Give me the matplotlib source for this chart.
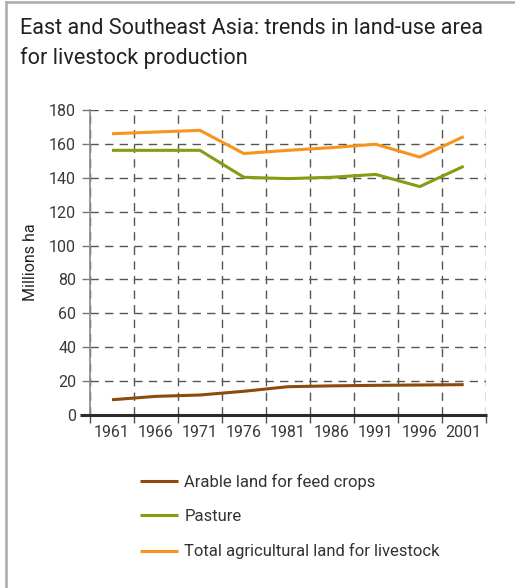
import matplotlib
matplotlib.use("Agg")
import matplotlib.pyplot as plt
from matplotlib.lines import Line2D

# Daten (Millionen ha)
years = ["1961", "1966", "1971", "1976", "1981", "1986", "1991", "1996", "2001"]
arable = [9.0, 11.0, 11.8, 14.0, 16.7, 17.2, 17.5, 17.7, 17.9]
pasture = [156.2, 156.2, 156.2, 140.3, 139.5, 140.3, 142.0, 134.8, 146.8]
total = [166.0, 167.0, 168.0, 154.3, 156.2, 157.8, 159.8, 152.2, 164.3]
labels = ["Arable land for feed crops", "Pasture", "Total agricultural land for livestock"]
colors = ["#8a4b0b", "#8a9a12", "#f7931e"]

plt.rcParams['font.family'] = ['Roboto', 'DejaVu Sans']

fig = plt.figure(figsize=(5.15, 5.88), dpi=100)
ax = fig.add_axes([90 / 515, 1 - 415 / 588, (485.7 - 90) / 515, (415 - 110) / 588])

x = list(range(len(years)))
lines = []
for vals, col, lab in zip([arable, pasture, total], colors, labels):
    ln, = ax.plot(x, vals, color=col, linewidth=2.2, label=lab, solid_capstyle='butt', zorder=3)
    lines.append(ln)

# Achsen
ax.set_xlim(-0.5, len(years) - 0.5)
ax.set_ylim(0, 180)
ax.set_yticks(range(0, 181, 20))
ax.set_xticks([i - 0.5 for i in range(len(years) + 1)])
ax.set_xticklabels([])
ax.set_xticks(x, minor=True)
ax.set_xticklabels(years, minor=True)
ax.tick_params(axis='x', which='minor', length=0, pad=7, labelsize=11.5, labelcolor='#3a3a3a')
ax.tick_params(axis='x', which='major', length=6, width=1, color='#555555', direction='out')
ax.tick_params(axis='y', length=6, width=1, color='#777777', pad=4, labelsize=11.5, labelcolor='#3a3a3a')

ax.grid(True, which='major', linestyle=(0, (6, 4.5)), color='#555555', linewidth=1.0)
ax.set_axisbelow(True)

for s in ['top', 'right', 'bottom']:
    ax.spines[s].set_visible(False)
ax.spines['left'].set_color('#888888')
ax.spines['left'].set_linewidth(1.2)

# Nulllinie, links und rechts etwas verlängert
ax.plot([-0.025, 1.004], [0, 0], transform=ax.get_yaxis_transform(), color='#2b2b2b',
        linewidth=2.2, clip_on=False, zorder=4, solid_capstyle='butt')

ax.set_ylabel('Millions ha', fontsize=11.5, color='#222222', labelpad=8)

# Titel
fig.text(20 / 515, 1 - 18 / 588, "East and Southeast Asia: trends in land-use area\nfor livestock production",
         fontsize=15.6, color='#222222', va='top', ha='left', linespacing=1.45)

# Rahmen oben und links
fig.add_artist(Line2D([5.5 / 515, 5.5 / 515], [0, 1 - 2 / 588], color='#aaaaaa', linewidth=1.8))
fig.add_artist(Line2D([5.5 / 515, 1], [1 - 2 / 588, 1 - 2 / 588], color='#aaaaaa', linewidth=1.8))

# Legende
fig.legend(handles=lines, loc='upper left', bbox_to_anchor=(125 / 515, 1 - 459 / 588),
           frameon=False, fontsize=12, handlelength=2.3, handletextpad=0.35, labelspacing=1.15,
           labelcolor='#333333')

fig.savefig('out.png', dpi=100)
